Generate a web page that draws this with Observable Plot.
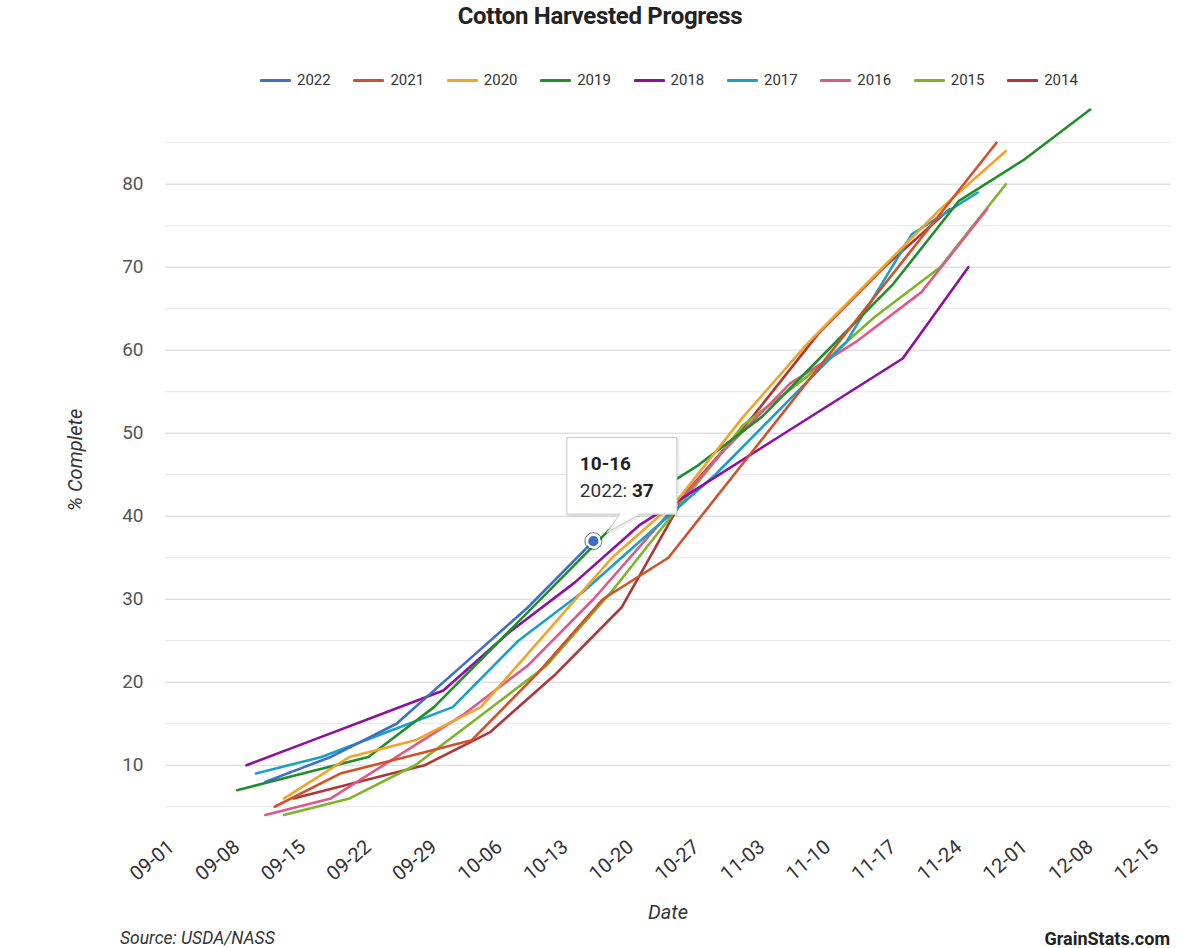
<!DOCTYPE html>
<html><head><meta charset="utf-8">
<script src="https://cdn.jsdelivr.net/npm/d3@7"></script>
<script src="https://cdn.jsdelivr.net/npm/@observablehq/plot@0.6"></script>
<style>
body{margin:0;background:#fff;font-family:Roboto,"Open Sans",sans-serif;}
#wrap{position:relative;width:1200px;height:948px;overflow:hidden;background:#fff;}
#title{position:absolute;top:2px;left:0;width:1200px;text-align:center;font-weight:700;font-size:24px;color:#222;letter-spacing:-0.3px;}
#legend{position:absolute;top:71px;left:260px;display:flex;}
.item{width:93.4px;display:flex;align-items:center;font-size:15px;color:#333;height:18px;}
.sw{width:31px;height:3px;margin-right:6px;border-radius:1px;}
#chart{position:absolute;top:90px;left:0;}
#ylab{position:absolute;left:75px;top:460px;transform:translate(-50%,-50%) rotate(-90deg);font-style:italic;font-size:20px;color:#333;white-space:nowrap;}
#xlab{position:absolute;left:668px;top:912px;transform:translate(-50%,-50%);font-style:italic;font-size:20px;color:#333;}
#source{position:absolute;left:120px;top:928px;font-style:italic;font-size:17.5px;color:#333;}
#brand{position:absolute;right:30px;top:928px;font-weight:700;font-size:18px;color:#222;}
</style></head>
<body>
<div id="wrap">
  <div id="title">Cotton Harvested Progress</div>
  <div id="legend"></div>
  <div id="chart"></div>
  <div id="ylab">% Complete</div>
  <div id="xlab">Date</div>
  <div id="source">Source: USDA/NASS</div>
  <div id="brand">GrainStats.com</div>
</div>
<script>
// ---- data ----
const years  = ["2022","2021","2020","2019","2018","2017","2016","2015","2014"];
const colors = ["#3d6fc6","#d4502a","#f4a32a","#1f8f2a","#8e0fa0","#1aa0c8","#dc5a8a","#7db52a","#b03538"];

const dates2022 = ["09-11","09-18","09-25","10-02","10-09","10-16"];
const pct2022   = [8, 11, 15, 22, 29, 37];
const dates2021 = ["09-12","09-19","09-26","10-03","10-10","10-17","10-24","10-31","11-07","11-14","11-21","11-28"];
const pct2021   = [5, 9, 11, 13, 21, 30, 35, 45, 55, 65, 75, 85];
const dates2020 = ["09-13","09-20","09-27","10-04","10-11","10-18","10-25","11-01","11-08","11-15","11-22","11-29"];
const pct2020   = [6, 11, 13, 17, 26, 35, 42, 52, 61, 69, 77, 84];
const dates2019 = ["09-08","09-15","09-22","09-29","10-06","10-13","10-20","10-27","11-03","11-10","11-17","11-24","12-01","12-08"];
const pct2019   = [7, 9, 11, 17, 25, 33, 41, 46, 52, 60, 68, 78, 83, 89];
const dates2018 = ["09-09","09-16","09-23","09-30","10-07","10-14","10-21","10-28","11-04","11-11","11-18","11-25"];
const pct2018   = [10, 13, 16, 19, 26, 32, 39, 44, 49, 54, 59, 70];
const dates2017 = ["09-10","09-17","09-24","10-01","10-08","10-15","10-22","10-29","11-05","11-12","11-19","11-26"];
const pct2017   = [9, 11, 14, 17, 25, 31, 38, 45, 53, 61, 74, 79];
const dates2016 = ["09-11","09-18","09-25","10-02","10-09","10-16","10-23","10-30","11-06","11-13","11-20","11-27"];
const pct2016   = [4, 6, 11, 16, 22, 30, 39, 48, 56, 61, 67, 77];
const dates2015 = ["09-13","09-20","09-27","10-04","10-11","10-18","10-25","11-01","11-08","11-15","11-22","11-29"];
const pct2015   = [4, 6, 10, 16, 22, 31, 41, 51, 57, 64, 70, 80];
const dates2014 = ["09-14","09-21","09-28","10-05","10-12","10-19","10-26","11-02","11-09","11-16","11-23"];
const pct2014   = [6, 8, 10, 14, 21, 29, 43, 52, 62, 70, 77];

const xTickLabels = ["09-01","09-08","09-15","09-22","09-29","10-06","10-13","10-20","10-27","11-03","11-10","11-17","11-24","12-01","12-08","12-15"];
const yTickLabels = [10, 20, 30, 40, 50, 60, 70, 80];
const yGridMinor  = [5, 15, 25, 35, 45, 55, 65, 75, 85];

const hoverYear = "2022", hoverDate = "10-16", hoverValue = 37;

// ---- build ----
const md = s => { const [m, d] = s.split("-").map(Number); return new Date(Date.UTC(2000, m - 1, d)); };
const series = {
  "2022": [dates2022, pct2022], "2021": [dates2021, pct2021], "2020": [dates2020, pct2020],
  "2019": [dates2019, pct2019], "2018": [dates2018, pct2018], "2017": [dates2017, pct2017],
  "2016": [dates2016, pct2016], "2015": [dates2015, pct2015], "2014": [dates2014, pct2014]
};
const rows = [];
for (const y of years.slice().reverse()) {
  const [ds, vs] = series[y];
  ds.forEach((d, i) => rows.push({year: y, date: md(d), value: vs[i]}));
}

const DAY = 864e5;
const x0 = md("09-01").getTime();
const xDomain = [new Date(x0 - 0.64 * DAY), new Date(x0 + 106.67 * DAY)];

// legend
const leg = document.getElementById("legend");
years.forEach((y, i) => {
  const it = document.createElement("div"); it.className = "item";
  const sw = document.createElement("div"); sw.className = "sw"; sw.style.background = colors[i];
  const tx = document.createElement("span"); tx.textContent = y;
  it.appendChild(sw); it.appendChild(tx); leg.appendChild(it);
});

const H = 840;
const chart = Plot.plot({
  width: 1200, height: H,
  marginTop: 10.7, marginBottom: H - 728.7, marginLeft: 165, marginRight: 29,
  style: {fontFamily: "Roboto, sans-serif", background: "transparent"},
  x: {type: "utc", domain: xDomain},
  y: {domain: [3.5, 90]},
  color: {domain: years, range: colors},
  marks: [
    Plot.ruleY(yGridMinor, {stroke: "#e6e6e6", strokeWidth: 1}),
    Plot.ruleY(yTickLabels, {stroke: "#d3d3d3", strokeWidth: 1}),
    Plot.axisY({ticks: yTickLabels, tickSize: 0, tickPadding: 22, fontSize: 19, color: "#555", label: null}),
    Plot.axisX({ticks: xTickLabels.map(md), tickFormat: d3.utcFormat("%m-%d"), tickRotate: -40,
      tickSize: 0, tickPadding: 25, fontSize: 20, color: "#333", label: null}),
    Plot.line(rows, {x: "date", y: "value", z: "year", stroke: "year", strokeWidth: 2.6,
      strokeLinejoin: "round", strokeLinecap: "round"}),
    Plot.dot([{date: md(hoverDate), value: hoverValue}], {x: "date", y: "value", r: 8.5,
      fill: "none", stroke: "#2a3f66", strokeWidth: 1, strokeOpacity: 0.7}),
    Plot.dot([{date: md(hoverDate), value: hoverValue, year: hoverYear}], {x: "date", y: "value", r: 6.2,
      fill: "year", stroke: "white", strokeWidth: 2.2})
  ]
});
document.getElementById("chart").appendChild(chart);

// tooltip anchored through the scales
const px = chart.scale("x").apply(md(hoverDate));
const py = chart.scale("y").apply(hoverValue);
const svg = d3.select(chart);
const L = px - 26, T = py - 103, R = L + 110, B = py - 26.5;
const defs = svg.append("defs");
const f = defs.append("filter").attr("id", "sh").attr("x", "-20%").attr("y", "-20%").attr("width", "150%").attr("height", "150%");
f.append("feDropShadow").attr("dx", 1).attr("dy", 1).attr("stdDeviation", 1.5).attr("flood-color", "#000").attr("flood-opacity", 0.15);
const g = svg.append("g").attr("text-anchor", "start");
g.append("path")
  .attr("d", `M${L},${T} H${R} V${B} H${px + 47} L${px + 14},${py - 8} L${px + 27},${B} H${L} Z`)
  .attr("fill", "white").attr("stroke", "#c8c8c8").attr("stroke-width", 1).attr("filter", "url(#sh)");
g.append("text").attr("x", L + 13).attr("y", T + 32).attr("font-size", 19).attr("font-weight", 700)
  .attr("fill", "#222").text(hoverDate);
const t2 = g.append("text").attr("x", L + 13).attr("y", T + 59).attr("font-size", 19).attr("fill", "#333");
t2.append("tspan").text(hoverYear + ": ");
t2.append("tspan").attr("font-weight", 700).attr("fill", "#222").text(hoverValue);
</script>
</body></html>
